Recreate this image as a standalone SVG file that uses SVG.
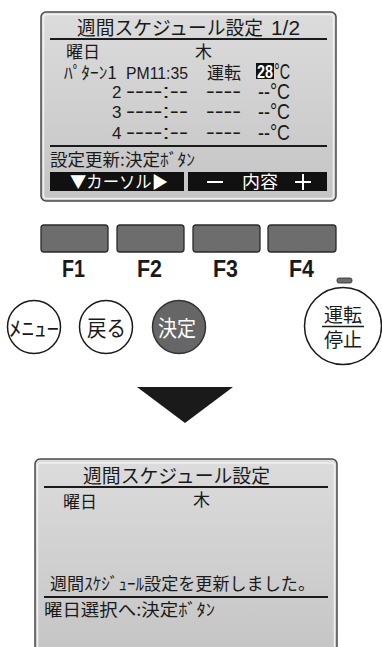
<svg xmlns="http://www.w3.org/2000/svg" width="382" height="647" viewBox="0 0 382 647">
<style>
.t{font-family:"Noto Sans CJK JP","Noto Sans",sans-serif;fill:#1a1a1a}
.l{font-family:"Liberation Sans","Noto Sans",sans-serif;fill:#1a1a1a}
.w{fill:#fff}
.scr{stroke:#4a4a4a;stroke-width:1.5;fill:url(#g)}
.inner{fill:none;stroke:#f0f0f0;stroke-width:1.5}
.ln{stroke:#1a1a1a;stroke-width:2}
.fb{fill:#6d6d6d;stroke:#2a2a2a;stroke-width:1.3}
.fl{font-family:"Liberation Sans","DejaVu Sans",sans-serif;font-weight:bold;font-size:23px;fill:#1a1a1a}
.cb{fill:#fff;stroke:#1a1a1a;stroke-width:1.5}
</style>
<defs>
<linearGradient id="g" x1="0" y1="0" x2="0" y2="1">
<stop offset="0" stop-color="#dcdcdc"/>
<stop offset="1" stop-color="#c4c4c4"/>
</linearGradient>
</defs>

<g id="screen1">
<rect class="scr" x="41" y="12" width="295" height="189" rx="5"/>
<rect class="inner" x="43.5" y="14.5" width="290" height="184" rx="3"/>
<text class="t" x="77" y="35" font-size="19" textLength="186" lengthAdjust="spacingAndGlyphs">週間スケジュール設定</text>
<text class="l" x="271" y="35" font-size="20" textLength="29" lengthAdjust="spacingAndGlyphs">1/2</text>
<line class="ln" x1="50" y1="39" x2="327" y2="39"/>
<text class="t" x="66" y="58" font-size="17" textLength="34" lengthAdjust="spacingAndGlyphs">曜日</text>
<text class="t" x="195" y="58" font-size="17">木</text>
<text class="t" x="64" y="79" font-size="17" textLength="53" lengthAdjust="spacingAndGlyphs">ﾊﾟﾀｰﾝ1</text>
<text class="l" x="126" y="79" font-size="17" textLength="62" lengthAdjust="spacingAndGlyphs">PM11:35</text>
<text class="t" x="207" y="79" font-size="17" textLength="34" lengthAdjust="spacingAndGlyphs">運転</text>
<rect x="256" y="63" width="18" height="16" fill="#111"/>
<text class="l w" x="257" y="78" font-size="19" font-weight="bold" textLength="16" lengthAdjust="spacingAndGlyphs">28</text>
<text class="l" x="274" y="79" font-size="22" textLength="16" lengthAdjust="spacingAndGlyphs">°C</text>
<text class="l" x="112" y="98" font-size="17">2</text>
<text class="l" x="126" y="98" font-size="20" textLength="62" lengthAdjust="spacingAndGlyphs">----:--</text>
<text class="l" x="206" y="98" font-size="20" textLength="35" lengthAdjust="spacingAndGlyphs">----</text>
<text class="l" x="258" y="99" font-size="22" textLength="32" lengthAdjust="spacingAndGlyphs">--°C</text>
<text class="l" x="112" y="118" font-size="17">3</text>
<text class="l" x="126" y="118" font-size="20" textLength="62" lengthAdjust="spacingAndGlyphs">----:--</text>
<text class="l" x="206" y="118" font-size="20" textLength="35" lengthAdjust="spacingAndGlyphs">----</text>
<text class="l" x="258" y="119" font-size="22" textLength="32" lengthAdjust="spacingAndGlyphs">--°C</text>
<text class="l" x="112" y="139" font-size="17">4</text>
<text class="l" x="126" y="139" font-size="20" textLength="62" lengthAdjust="spacingAndGlyphs">----:--</text>
<text class="l" x="206" y="139" font-size="20" textLength="35" lengthAdjust="spacingAndGlyphs">----</text>
<text class="l" x="258" y="140" font-size="22" textLength="32" lengthAdjust="spacingAndGlyphs">--°C</text>
<line class="ln" x1="50" y1="146" x2="327" y2="146"/>
<text class="t" x="50" y="166" font-size="17" textLength="145" lengthAdjust="spacingAndGlyphs">設定更新:決定ﾎﾞﾀﾝ</text>
<rect x="50" y="172" width="134" height="19" fill="#111"/>
<rect x="188" y="172" width="139" height="19" fill="#111"/>
<text class="t w" x="70" y="188" font-size="17" textLength="98" lengthAdjust="spacingAndGlyphs">▼カーソル▶</text>
<rect x="207" y="181" width="16" height="2" fill="#fff"/>
<text class="t w" x="242" y="188" font-size="17" textLength="36" lengthAdjust="spacingAndGlyphs">内容</text>
<rect x="295" y="181" width="16" height="2" fill="#fff"/>
<rect x="302" y="174" width="2" height="16" fill="#fff"/>
</g>

<g id="F1"><rect class="fb" x="41" y="225" width="67" height="27" rx="3"/><text class="fl" x="62" y="277" textLength="23" lengthAdjust="spacingAndGlyphs">F1</text></g>
<g id="F2"><rect class="fb" x="117" y="225" width="67" height="27" rx="3"/><text class="fl" x="137" y="277" textLength="25" lengthAdjust="spacingAndGlyphs">F2</text></g>
<g id="F3"><rect class="fb" x="193" y="225" width="67" height="27" rx="3"/><text class="fl" x="213" y="277" textLength="25" lengthAdjust="spacingAndGlyphs">F3</text></g>
<g id="F4"><rect class="fb" x="268" y="225" width="68" height="27" rx="3"/><text class="fl" x="289" y="277" textLength="25" lengthAdjust="spacingAndGlyphs">F4</text></g>
<g id="indicator"><rect x="337" y="278" width="15" height="5" rx="2" fill="#6d6d6d" stroke="#2a2a2a" stroke-width="0.8"/></g>

<g id="menu"><circle class="cb" cx="34" cy="327" r="26.5"/><text class="t" x="9" y="336" font-size="21" textLength="50" lengthAdjust="spacingAndGlyphs">ﾒﾆｭｰ</text></g>
<g id="back"><circle class="cb" cx="106" cy="327" r="26.5"/><text class="t" x="87" y="336" font-size="22" textLength="39" lengthAdjust="spacingAndGlyphs">戻る</text></g>
<g id="enter"><circle cx="179" cy="327" r="26.5" fill="#666" stroke="#333" stroke-width="1.5"/><text class="t w" x="158" y="336" font-size="22" textLength="38" lengthAdjust="spacingAndGlyphs">決定</text></g>
<g id="onoff"><circle class="cb" cx="343" cy="326" r="38.5"/><text class="t" x="324" y="322" font-size="19" textLength="38" lengthAdjust="spacingAndGlyphs">運転</text><line x1="322" y1="326.5" x2="364" y2="326.5" stroke="#1a1a1a" stroke-width="1.3"/><text class="t" x="324" y="347" font-size="19" textLength="38" lengthAdjust="spacingAndGlyphs">停止</text></g>

<g id="connectors"><polygon points="137,387 233,387 185,423" fill="#1a1a1a"/></g>

<g id="screen2">
<path class="scr" d="M35,660 V464 a5,5 0 0 1 5,-5 H332 a5,5 0 0 1 5,5 V660"/>
<path class="inner" d="M37.5,660 V466 a3,3 0 0 1 3,-3 H331.5 a3,3 0 0 1 3,3 V660"/>
<text class="t" x="83" y="483" font-size="19" textLength="187" lengthAdjust="spacingAndGlyphs">週間スケジュール設定</text>
<line class="ln" x1="44" y1="487" x2="328" y2="487"/>
<text class="t" x="63" y="508" font-size="17" textLength="34" lengthAdjust="spacingAndGlyphs">曜日</text>
<text class="t" x="193" y="506" font-size="17">木</text>
<text class="t" x="50" y="590" font-size="17" textLength="265" lengthAdjust="spacingAndGlyphs">週間ｽｹｼﾞｭｰﾙ設定を更新しました。</text>
<line class="ln" x1="44" y1="597" x2="328" y2="597"/>
<text class="t" x="44" y="616" font-size="17" textLength="171" lengthAdjust="spacingAndGlyphs">曜日選択へ:決定ﾎﾞﾀﾝ</text>
</g>
</svg>
